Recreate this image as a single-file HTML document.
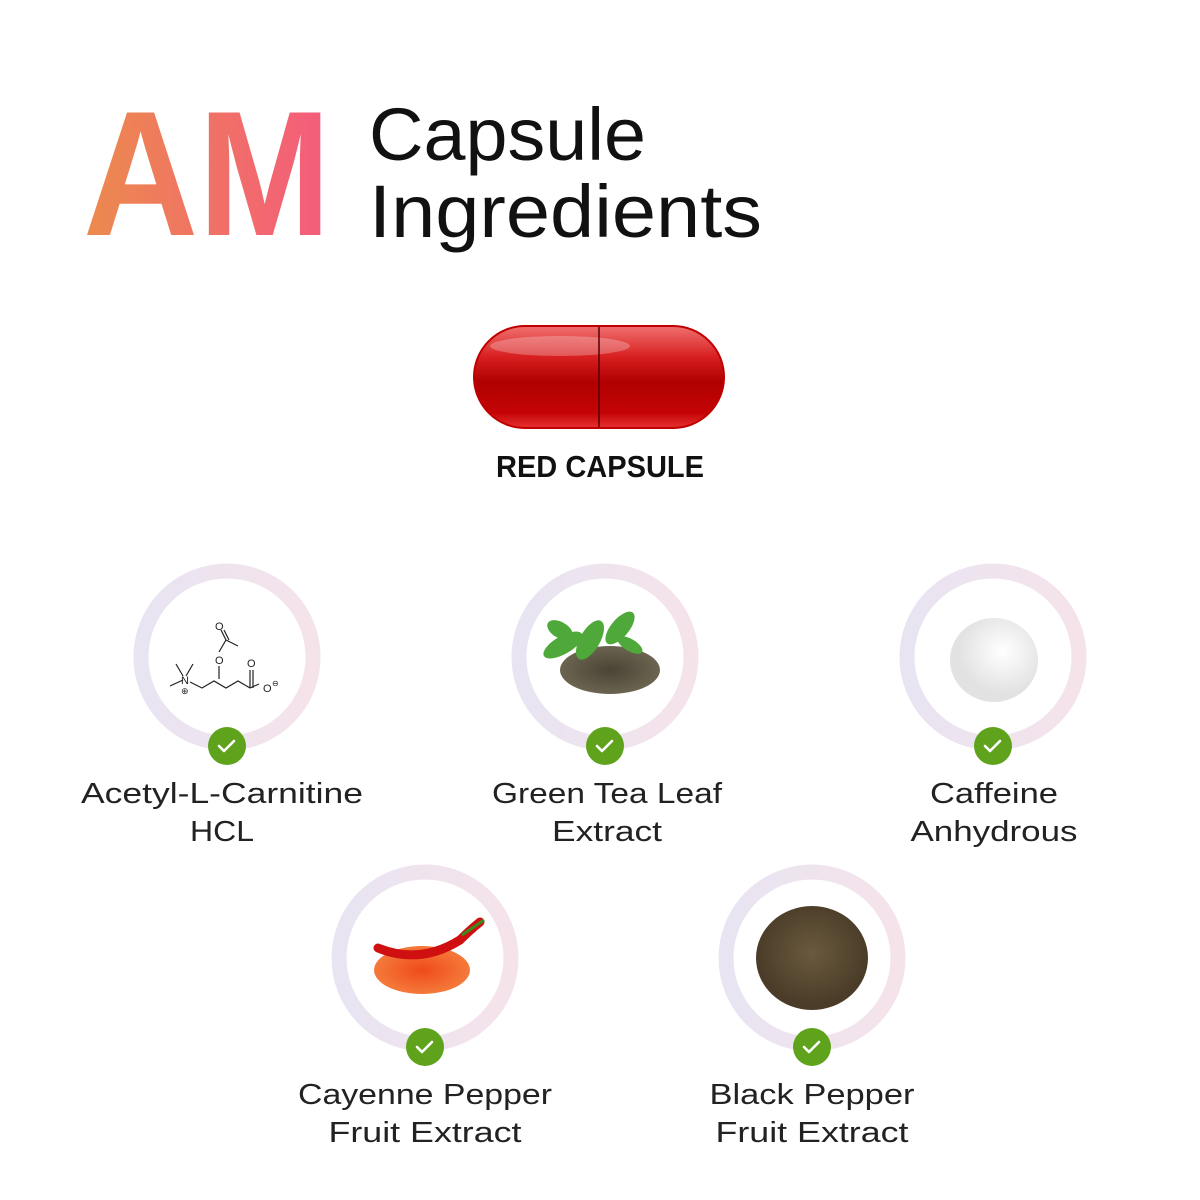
<!DOCTYPE html>
<html><head><meta charset="utf-8"><style>
html,body{margin:0;padding:0;background:#fff;}
svg{display:block}
</style></head><body>
<svg width="1200" height="1200" viewBox="0 0 1200 1200" xmlns="http://www.w3.org/2000/svg">
<defs>
<linearGradient id="am" x1="85" y1="0" x2="330" y2="0" gradientUnits="userSpaceOnUse">
<stop offset="0" stop-color="#ec8a4e"/><stop offset="1" stop-color="#f45b7c"/></linearGradient>
<linearGradient id="ring" x1="0" y1="0" x2="1" y2="0">
<stop offset="0" stop-color="#e8e4f2"/><stop offset="1" stop-color="#f5e3ea"/></linearGradient>
<linearGradient id="cap" x1="0" y1="0" x2="0" y2="1">
<stop offset="0" stop-color="#f07070"/><stop offset="0.3" stop-color="#d82020"/><stop offset="0.55" stop-color="#b00000"/><stop offset="0.85" stop-color="#c40404"/><stop offset="1" stop-color="#e83030"/></linearGradient>
<radialGradient id="tea" cx="0.5" cy="0.5" r="0.5"><stop offset="0" stop-color="#4a4436"/><stop offset="1" stop-color="#6b6450"/></radialGradient>
<radialGradient id="bp" cx="0.5" cy="0.45" r="0.5"><stop offset="0" stop-color="#6a5a3e"/><stop offset="1" stop-color="#4a3c28"/></radialGradient>
<radialGradient id="wp" cx="0.6" cy="0.4" r="0.5"><stop offset="0" stop-color="#ffffff"/><stop offset="1" stop-color="#e2e2e2"/></radialGradient>
<radialGradient id="rp" cx="0.5" cy="0.5" r="0.5"><stop offset="0" stop-color="#f04a1a"/><stop offset="1" stop-color="#f47a3a"/></radialGradient>
</defs>

<text x="83" y="235" font-family="Liberation Sans, sans-serif" font-weight="bold" font-size="178" fill="url(#am)" textLength="248" lengthAdjust="spacingAndGlyphs">AM</text>
<text x="369" y="160" font-family="Liberation Sans, sans-serif" font-size="74" fill="#111" textLength="277" lengthAdjust="spacingAndGlyphs">Capsule</text>
<text x="369" y="237" font-family="Liberation Sans, sans-serif" font-size="74" fill="#111" textLength="393" lengthAdjust="spacingAndGlyphs">Ingredients</text>

<rect x="474" y="326" width="250" height="102" rx="51" fill="url(#cap)" stroke="#c00000" stroke-width="2"/>
<ellipse cx="560" cy="346" rx="70" ry="10" fill="#ffffff" opacity="0.25"/>
<line x1="599" y1="327" x2="599" y2="427" stroke="#500" stroke-width="1.5"/>
<text x="600" y="477" text-anchor="middle" font-family="Liberation Sans, sans-serif" font-weight="bold" font-size="31" fill="#111" textLength="208" lengthAdjust="spacingAndGlyphs">RED CAPSULE</text>

<g fill="none" stroke="url(#ring)" stroke-width="15">
<circle cx="227" cy="657" r="86"/>
<circle cx="605" cy="657" r="86"/>
<circle cx="993" cy="657" r="86"/>
<circle cx="425" cy="958" r="86"/>
<circle cx="812" cy="958" r="86"/>
</g>

<g stroke="#222" stroke-width="1.2" fill="none">
<path d="M170 686 L183 680 M176 664 L183 676 M193 664 L186 676 M190 682 L202 688 L214 681 L226 688 L238 681 L250 688 L259 684 M250 688 L250 670 M253 688 L253 670 M219 679 L219 666 M219 652 L226 640 L238 646 M226 640 L221 630 M229 640 L224 630"/>
</g>
<g font-family="Liberation Sans, sans-serif" font-size="11" fill="#222">
<text x="181" y="684">N</text><text x="181" y="694" font-size="9">⊕</text>
<text x="215" y="664">O</text><text x="215" y="630">O</text><text x="247" y="667">O</text><text x="263" y="692">O</text><text x="272" y="686" font-size="8">⊖</text>
</g>

<ellipse cx="610" cy="670" rx="50" ry="24" fill="url(#tea)"/>
<g fill="#4fa83a">
<ellipse cx="563" cy="645" rx="22" ry="9" transform="rotate(-30 563 645)"/>
<ellipse cx="590" cy="640" rx="22" ry="10" transform="rotate(-60 590 640)"/>
<ellipse cx="620" cy="628" rx="20" ry="9" transform="rotate(-50 620 628)"/>
<ellipse cx="560" cy="630" rx="14" ry="8" transform="rotate(30 560 630)"/>
<ellipse cx="630" cy="645" rx="14" ry="6" transform="rotate(30 630 645)"/>
</g>

<ellipse cx="994" cy="660" rx="44" ry="42" fill="url(#wp)"/>

<ellipse cx="422" cy="970" rx="48" ry="24" fill="url(#rp)"/>
<path d="M378 948 Q420 965 460 940 Q470 930 480 922" stroke="#d01010" stroke-width="9" fill="none" stroke-linecap="round"/>
<path d="M462 935 L484 920" stroke="#3a8a20" stroke-width="3"/>

<ellipse cx="812" cy="958" rx="56" ry="52" fill="url(#bp)"/>

<g>
<circle cx="227" cy="746" r="19" fill="#5fa31c"/>
<circle cx="605" cy="746" r="19" fill="#5fa31c"/>
<circle cx="993" cy="746" r="19" fill="#5fa31c"/>
<circle cx="425" cy="1047" r="19" fill="#5fa31c"/>
<circle cx="812" cy="1047" r="19" fill="#5fa31c"/>
</g>
<g stroke="#fff" stroke-width="2.6" fill="none" stroke-linecap="round" stroke-linejoin="round">
<path d="M219 746 l5 5 l10 -10"/>
<path d="M597 746 l5 5 l10 -10"/>
<path d="M985 746 l5 5 l10 -10"/>
<path d="M417 1047 l5 5 l10 -10"/>
<path d="M804 1047 l5 5 l10 -10"/>
</g>

<g font-family="Liberation Sans, sans-serif" font-size="29" fill="#222" text-anchor="middle">
<text x="222" y="803" textLength="282" lengthAdjust="spacingAndGlyphs">Acetyl-L-Carnitine</text>
<text x="222" y="841" textLength="64" lengthAdjust="spacingAndGlyphs">HCL</text>
<text x="607" y="803" textLength="230" lengthAdjust="spacingAndGlyphs">Green Tea Leaf</text>
<text x="607" y="841" textLength="110" lengthAdjust="spacingAndGlyphs">Extract</text>
<text x="994" y="803" textLength="128" lengthAdjust="spacingAndGlyphs">Caffeine</text>
<text x="994" y="841" textLength="167" lengthAdjust="spacingAndGlyphs">Anhydrous</text>
<text x="425" y="1104" textLength="254" lengthAdjust="spacingAndGlyphs">Cayenne Pepper</text>
<text x="425" y="1142" textLength="193" lengthAdjust="spacingAndGlyphs">Fruit Extract</text>
<text x="812" y="1104" textLength="205" lengthAdjust="spacingAndGlyphs">Black Pepper</text>
<text x="812" y="1142" textLength="193" lengthAdjust="spacingAndGlyphs">Fruit Extract</text>
</g>
</svg>
</body></html>
